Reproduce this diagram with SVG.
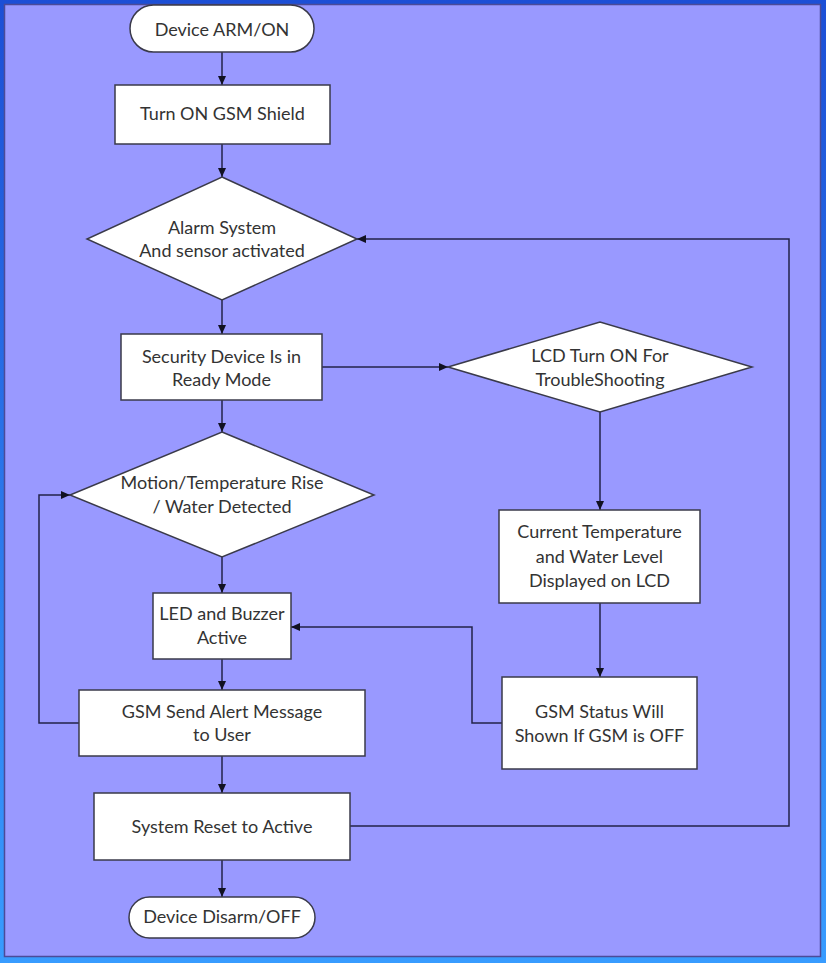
<svg xmlns="http://www.w3.org/2000/svg" width="826" height="963" viewBox="0 0 826 963">
<style>
.n{fill:#ffffff;stroke:#3a3a4a;stroke-width:1.5}
.t{font-family:Lato,"Liberation Sans",sans-serif;font-size:18px;fill:#333333;text-anchor:middle}
.c{fill:none;stroke:#23234a;stroke-width:1.5}
</style>
<defs>
<linearGradient id="bg" x1="0" y1="0" x2="0" y2="1">
<stop offset="0" stop-color="#1c4fd6"/>
<stop offset="1" stop-color="#389cff"/>
</linearGradient>
<marker id="a" markerWidth="10" markerHeight="8" refX="9" refY="4" orient="auto" markerUnits="userSpaceOnUse">
<path d="M0,0 L9,4 L0,8 z" fill="#111122"/>
</marker>
</defs>
<rect x="0" y="0" width="826" height="963" fill="url(#bg)"/>
<rect x="4.5" y="4.5" width="816" height="952" fill="#9999ff" stroke="#4b4b99" stroke-width="1.5"/>

<g id="connectors">
<path class="c" d="M222,52 V85" marker-end="url(#a)"/>
<path class="c" d="M222,144 V177" marker-end="url(#a)"/>
<path class="c" d="M222,300 V334" marker-end="url(#a)"/>
<path class="c" d="M322,367 H448" marker-end="url(#a)"/>
<path class="c" d="M222,400 V432" marker-end="url(#a)"/>
<path class="c" d="M600,412 V510" marker-end="url(#a)"/>
<path class="c" d="M222,557 V593" marker-end="url(#a)"/>
<path class="c" d="M600,603 V677" marker-end="url(#a)"/>
<path class="c" d="M222,659 V690" marker-end="url(#a)"/>
<path class="c" d="M502,723 H472 V627 H291" marker-end="url(#a)"/>
<path class="c" d="M79,723 H39 V495 H70" marker-end="url(#a)"/>
<path class="c" d="M222,756 V793" marker-end="url(#a)"/>
<path class="c" d="M350,826 H789 V239 H357" marker-end="url(#a)"/>
<path class="c" d="M222,860 V897" marker-end="url(#a)"/>
</g>

<g id="start">
<rect class="n" x="130" y="5" width="184" height="47" rx="23.5"/>
<text class="t" x="222" y="36">Device ARM/ON</text>
</g>
<g id="gsm-on">
<rect class="n" x="115" y="85" width="215" height="59"/>
<text class="t" x="222.5" y="120">Turn ON GSM Shield</text>
</g>
<g id="alarm">
<polygon class="n" points="222,177 357,239 222,300 87,239"/>
<text class="t" x="222" y="234">Alarm System</text>
<text class="t" x="222" y="257">And sensor activated</text>
</g>
<g id="ready">
<rect class="n" x="121" y="334" width="201" height="66"/>
<text class="t" x="221.5" y="363">Security Device Is in</text>
<text class="t" x="221.5" y="386">Ready Mode</text>
</g>
<g id="lcd">
<polygon class="n" points="448,367 600,322 752,367 600,412"/>
<text class="t" x="600" y="362">LCD Turn ON For</text>
<text class="t" x="600" y="386">TroubleShooting</text>
</g>
<g id="motion">
<polygon class="n" points="222,432 374,495 222,557 70,495"/>
<text class="t" x="222" y="489">Motion/Temperature Rise</text>
<text class="t" x="222" y="513">/ Water Detected</text>
</g>
<g id="current">
<rect class="n" x="499" y="510" width="201" height="93"/>
<text class="t" x="599.5" y="538">Current Temperature</text>
<text class="t" x="599.5" y="563">and Water Level</text>
<text class="t" x="599.5" y="587">Displayed on LCD</text>
</g>
<g id="led">
<rect class="n" x="153" y="593" width="138" height="66"/>
<text class="t" x="222" y="620">LED and Buzzer</text>
<text class="t" x="222" y="644">Active</text>
</g>
<g id="gsm-status">
<rect class="n" x="502" y="677" width="195" height="92"/>
<text class="t" x="599.5" y="718">GSM Status Will</text>
<text class="t" x="599.5" y="742">Shown If GSM is OFF</text>
</g>
<g id="gsm-send">
<rect class="n" x="79" y="690" width="286" height="66"/>
<text class="t" x="222" y="718">GSM Send Alert Message</text>
<text class="t" x="222" y="741">to User</text>
</g>
<g id="reset">
<rect class="n" x="94" y="793" width="256" height="67"/>
<text class="t" x="222" y="833">System Reset to Active</text>
</g>
<g id="end">
<rect class="n" x="129" y="897" width="186" height="41" rx="20.5"/>
<text class="t" x="222" y="923">Device Disarm/OFF</text>
</g>
</svg>
